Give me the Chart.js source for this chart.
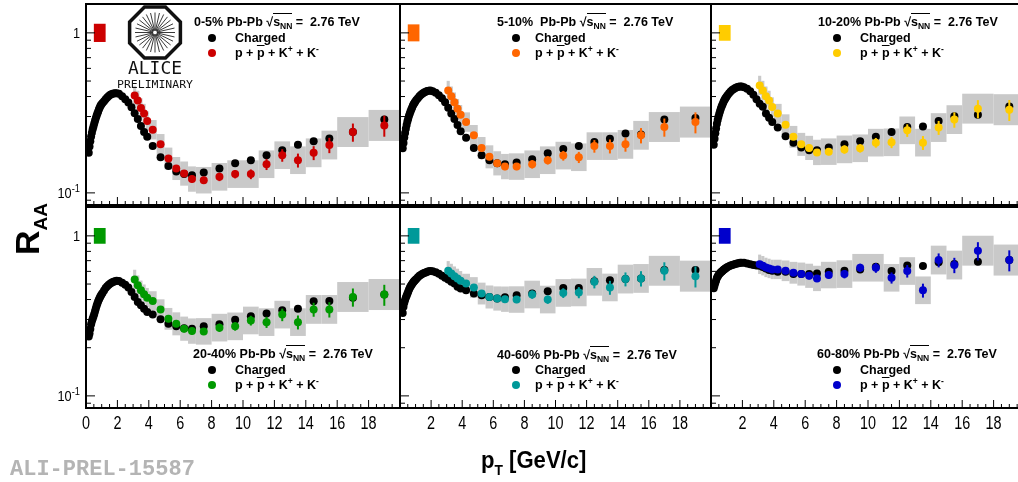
<!DOCTYPE html>
<html>
<head>
<meta charset="utf-8">
<script src="https://cdn.jsdelivr.net/npm/chart.js@4.4.1/dist/chart.umd.min.js"></script>
<style>
html, body { margin: 0; padding: 0; overflow: hidden; background: #fff; }
#page { position: relative; width: 1018px; height: 482px; overflow: hidden; font-family: 'Liberation Sans', Arial, sans-serif; }
canvas.pad { position: absolute; left: 0; top: 0; }
.leg { position: absolute; font-weight: bold; font-size: 12.5px; line-height: 14px; white-space: nowrap; transform: translateY(-50%); color: #000; }
.leg sub { font-size: 8.5px; vertical-align: -3px; line-height: 0; }
.leg sup { font-size: 8.5px; vertical-align: 5px; line-height: 0; }
.ov { border-top: 1.2px solid #000; padding-top: 1px; }
.ovp { text-decoration: overline; }
.dot { position: absolute; width: 8px; height: 8px; border-radius: 50%; transform: translate(-50%, -50%); }
#ytitle { position: absolute; left: 27px; top: 229px; transform: translate(-50%, -50%) rotate(-90deg); font-weight: bold; font-size: 34px; line-height: 34px; white-space: nowrap; }
#ytitle sub { font-size: 19px; vertical-align: -8px; line-height: 0; }
#xtitle { position: absolute; left: 481px; top: 448px; transform: scaleX(0.92); transform-origin: 0 0; font-weight: bold; font-size: 24px; line-height: 24px; white-space: nowrap; }
#xtitle sub { font-size: 15px; vertical-align: -7px; line-height: 0; }
#prel { position: absolute; left: 10px; top: 457px; font-family: 'Liberation Mono', 'DejaVu Sans Mono', monospace; font-weight: bold; font-size: 22px; color: #b4b4b4; white-space: nowrap; }
#logo { position: absolute; left: 110px; top: 0; }
</style>
</head>
<body>
<div id="page">
  <canvas class="pad" id="p0" width="1030" height="482"></canvas>
  <canvas class="pad" id="p1" width="1030" height="482"></canvas>
  <canvas class="pad" id="p2" width="1030" height="482"></canvas>
  <canvas class="pad" id="p3" width="1030" height="482"></canvas>
  <canvas class="pad" id="p4" width="1030" height="482"></canvas>
  <canvas class="pad" id="p5" width="1030" height="482"></canvas>
  <svg id="logo" width="100" height="92" viewBox="110 0 100 92"></svg>
  <div id="ytitle">R<sub>AA</sub></div>
  <div id="xtitle">p<sub>T</sub> [GeV/c]</div>
  <div id="prel">ALI-PREL-15587</div>
</div>
<script>
// ---- data ----
const centralities = ["0-5%", "5-10%", "10-20%", "20-40%", "40-60%", "60-80%"]
const pidColors = ["#cc0000", "#ff6600", "#ffcc00", "#009900", "#009999", "#0000cc"]

const chargedPt = [0.175, 0.225, 0.275, 0.325, 0.375, 0.425, 0.475, 0.525, 0.575, 0.625, 0.675, 0.725, 0.775, 0.825, 0.875, 0.925, 0.975,
  1.05, 1.15, 1.25, 1.35, 1.45, 1.55, 1.65, 1.75, 1.85, 1.95,
  2.1, 2.3, 2.5, 2.7, 2.9,
  3.1, 3.3, 3.5, 3.7, 3.9, 4.25, 4.75, 5.25, 5.75, 6.25, 6.75, 7.5, 8.5, 9.5, 10.5, 11.5, 12.5, 13.5, 14.5, 15.5, 17, 19]

const charged0_5 = [0.178, 0.195, 0.21, 0.225, 0.238, 0.25, 0.26, 0.271, 0.282, 0.293, 0.303, 0.313, 0.323, 0.333, 0.342, 0.35, 0.357,
  0.365, 0.374, 0.385, 0.395, 0.403, 0.41, 0.415, 0.418, 0.42, 0.42,
  0.416, 0.402, 0.385, 0.367, 0.343,
  0.315, 0.29, 0.262, 0.24, 0.224, 0.196, 0.167, 0.147, 0.136, 0.131, 0.129, 0.134, 0.142, 0.153, 0.16, 0.172, 0.185, 0.2, 0.21, 0.219, 0.24, 0.287]
const charged5_10 = [0.19, 0.205, 0.222, 0.237, 0.252, 0.266, 0.279, 0.291, 0.302, 0.312, 0.322, 0.332, 0.341, 0.35, 0.358, 0.365, 0.371,
  0.38, 0.391, 0.401, 0.41, 0.418, 0.424, 0.429, 0.433, 0.435, 0.436,
  0.432, 0.422, 0.408, 0.39, 0.368,
  0.34, 0.313, 0.29, 0.266, 0.243, 0.221, 0.191, 0.172, 0.16, 0.153, 0.151, 0.155, 0.162, 0.177, 0.188, 0.196, 0.208, 0.218, 0.235, 0.232, 0.287, 0.294]
const charged10_20 = [0.2, 0.218, 0.236, 0.253, 0.27, 0.285, 0.299, 0.312, 0.324, 0.335, 0.346, 0.356, 0.366, 0.375, 0.383, 0.391, 0.398,
  0.408, 0.42, 0.43, 0.439, 0.446, 0.452, 0.457, 0.46, 0.462, 0.462,
  0.458, 0.447, 0.432, 0.41, 0.385,
  0.36, 0.345, 0.313, 0.295, 0.277, 0.256, 0.226, 0.206, 0.192, 0.185, 0.185, 0.192, 0.201, 0.21, 0.224, 0.24, 0.258, 0.26, 0.281, 0.301, 0.308, 0.347]
const charged20_40 = [0.235, 0.245, 0.262, 0.28, 0.293, 0.303, 0.313, 0.325, 0.338, 0.352, 0.366, 0.378, 0.39, 0.4, 0.41, 0.42, 0.428,
  0.44, 0.455, 0.472, 0.485, 0.495, 0.504, 0.511, 0.517, 0.521, 0.524,
  0.522, 0.51, 0.495, 0.475, 0.446,
  0.415, 0.386, 0.368, 0.351, 0.334, 0.323, 0.301, 0.282, 0.272, 0.265, 0.263, 0.272, 0.28, 0.299, 0.314, 0.327, 0.343, 0.351, 0.39, 0.392, 0.41, 0.43]
const charged40_60 = [0.33, 0.36, 0.382, 0.398, 0.41, 0.422, 0.435, 0.448, 0.461, 0.472, 0.482, 0.491, 0.5, 0.508, 0.516, 0.523, 0.529,
  0.538, 0.552, 0.563, 0.572, 0.58, 0.586, 0.591, 0.596, 0.6, 0.603,
  0.6, 0.592, 0.58, 0.563, 0.548,
  0.534, 0.516, 0.504, 0.48, 0.469, 0.457, 0.436, 0.426, 0.415, 0.406, 0.413, 0.426, 0.436, 0.451, 0.473, 0.473, 0.521, 0.528, 0.537, 0.542, 0.611, 0.611]
const charged60_80 = [0.47, 0.49, 0.51, 0.527, 0.545, 0.558, 0.568, 0.577, 0.585, 0.592, 0.597, 0.604, 0.61, 0.616, 0.621, 0.626, 0.631,
  0.638, 0.645, 0.652, 0.658, 0.663, 0.667, 0.671, 0.675, 0.678, 0.68,
  0.679, 0.672, 0.665, 0.657, 0.652,
  0.65, 0.64, 0.625, 0.612, 0.605, 0.596, 0.596, 0.577, 0.577, 0.577, 0.582, 0.596, 0.605, 0.617, 0.641, 0.603, 0.654, 0.648, 0.684, 0.667, 0.689, 0.706]

const pidPt = [3.1, 3.3, 3.5, 3.7, 3.9, 4.25, 4.75, 5.25, 5.75, 6.25, 6.75, 7.5, 8.5, 9.5, 10.5, 11.5, 12.5, 13.5, 14.5, 15.5, 17, 19]
const pidBinLo = [3.0, 3.2, 3.4, 3.6, 3.8, 4.0, 4.5, 5.0, 5.5, 6.0, 6.5, 7, 8, 9, 10, 11, 12, 13, 14, 15, 16, 18]
const pidBinHi = [3.2, 3.4, 3.6, 3.8, 4.0, 4.5, 5.0, 5.5, 6.0, 6.5, 7, 8, 9, 10, 11, 12, 13, 14, 15, 16, 18, 20]
const pidSysRel = [0.15, 0.15, 0.15, 0.15, 0.15, 0.15, 0.16, 0.17, 0.18, 0.19, 0.2, 0.21, 0.22, 0.22, 0.22, 0.22, 0.22, 0.22, 0.23, 0.23, 0.24, 0.25]
const pidStatRel = [0.02, 0.02, 0.02, 0.02, 0.02, 0.02, 0.03, 0.04, 0.04, 0.05, 0.05, 0.05, 0.06, 0.06, 0.07, 0.08, 0.09, 0.1, 0.1, 0.11, 0.13, 0.15]

const pid0_5 = [0.406, 0.378, 0.339, 0.313, 0.281, 0.248, 0.201, 0.164, 0.142, 0.132, 0.122, 0.120, 0.126, 0.131, 0.131, 0.151, 0.172, 0.160, 0.178, 0.199, 0.240, 0.264]
const pid5_10 = [0.436, 0.402, 0.369, 0.336, 0.308, 0.277, 0.229, 0.191, 0.168, 0.153, 0.146, 0.146, 0.151, 0.160, 0.171, 0.167, 0.196, 0.196, 0.201, 0.229, 0.258, 0.277]
const pid10_20 = [0.469, 0.436, 0.402, 0.378, 0.344, 0.313, 0.267, 0.224, 0.201, 0.191, 0.179, 0.181, 0.187, 0.190, 0.206, 0.207, 0.246, 0.206, 0.256, 0.287, 0.336, 0.331]
const pid20_40 = [0.534, 0.492, 0.457, 0.432, 0.411, 0.392, 0.346, 0.303, 0.282, 0.263, 0.254, 0.253, 0.267, 0.272, 0.296, 0.289, 0.322, 0.289, 0.347, 0.347, 0.415, 0.430]
const pid40_60 = [0.605, 0.582, 0.560, 0.542, 0.524, 0.504, 0.476, 0.436, 0.415, 0.406, 0.402, 0.400, 0.430, 0.400, 0.440, 0.443, 0.516, 0.476, 0.537, 0.542, 0.605, 0.560]
const pid60_80 = [0.664, 0.651, 0.635, 0.626, 0.617, 0.617, 0.605, 0.588, 0.577, 0.563, 0.542, 0.569, 0.577, 0.632, 0.632, 0.547, 0.603, 0.457, 0.706, 0.657, 0.808, 0.706]

// normalisation uncertainty box near pT ~ 1, RAA = 1
const normPt = [0.5, 1.25]
const normRel = [0.14, 0.13, 0.12, 0.12, 0.12, 0.12]

// axis ticks
const xLabelsFirst = [0, 2, 4, 6, 8, 10, 12, 14, 16, 18]
const xLabelsOther = [2, 4, 6, 8, 10, 12, 14, 16, 18]
const xMajor = [0, 2, 4, 6, 8, 10, 12, 14, 16, 18, 20]
const xMinor = [0.5, 1, 1.5, 2.5, 3, 3.5, 4.5, 5, 5.5, 6.5, 7, 7.5, 8.5, 9, 9.5, 10.5, 11, 11.5, 12.5, 13, 13.5, 14.5, 15, 15.5, 16.5, 17, 17.5, 18.5, 19, 19.5]
const yLabels = [0.1, 1]
const yMinor = [0.09, 0.2, 0.3, 0.4, 0.5, 0.6, 0.7, 0.8, 0.9]

const chargedSets = [charged0_5, charged5_10, charged10_20, charged20_40, charged40_60, charged60_80]
const pidSets = [pid0_5, pid5_10, pid10_20, pid20_40, pid40_60, pid60_80]

// ---- layout of the 2x3 pads ----
const W = 1030, H = 482
const padCols = [[86, 400], [400, 711], [711, 1025]]
const padRows = [[3, 205], [207, 408]]
const boxGray = "#c9c9c9"

// narrow (condensed) text like the ROOT labels
function narrowText(ctx, txt, x, y, size, align, sx) {
    ctx.save()
    ctx.font = size + "px 'Liberation Sans', Arial, sans-serif"
    ctx.textBaseline = "alphabetic"
    ctx.translate(x, y)
    ctx.scale(sx, 1)
    const w = ctx.measureText(txt).width
    const x0 = align === "center" ? -w / 2 : (align === "right" ? -w : 0)
    ctx.fillText(txt, x0, 0)
    ctx.restore()
    return w * sx
}

const rootFrame = {
    id: "rootFrame",
    beforeDatasetsDraw(chart, args, o) {
        const { ctx, chartArea: a } = chart
        const x = chart.scales.x, y = chart.scales.y
        ctx.save()
        ctx.beginPath()
        ctx.rect(a.left, a.top, a.right - a.left, a.bottom - a.top)
        ctx.clip()
        ctx.fillStyle = boxGray
        pidPt.forEach((pt, i) => {
            const v = o.pid[i], f = pidSysRel[i]
            const x0 = x.getPixelForValue(pidBinLo[i]), x1 = x.getPixelForValue(pidBinHi[i])
            const y0 = y.getPixelForValue(v * (1 + f)), y1 = y.getPixelForValue(v / (1 + f))
            ctx.fillRect(x0, y0, x1 - x0, y1 - y0)
        })
        // normalisation uncertainty
        ctx.fillStyle = o.color
        const nx0 = x.getPixelForValue(normPt[0]), nx1 = x.getPixelForValue(normPt[1])
        const ny0 = y.getPixelForValue(1 + o.norm), ny1 = y.getPixelForValue(1 / (1 + o.norm))
        ctx.fillRect(nx0, ny0, nx1 - nx0, ny1 - ny0)
        ctx.restore()
    },
    afterDatasetDraw(chart, args, o) {
        if (args.index !== 1) return // stat errors after charged, before pid points
        const { ctx } = chart
        const x = chart.scales.x, y = chart.scales.y
        ctx.save()
        ctx.strokeStyle = o.color
        ctx.lineWidth = 2
        pidPt.forEach((pt, i) => {
            const v = o.pid[i], e = pidStatRel[i]
            const px = x.getPixelForValue(pt)
            ctx.beginPath()
            ctx.moveTo(px, y.getPixelForValue(v * (1 + e)))
            ctx.lineTo(px, y.getPixelForValue(v * (1 - e)))
            ctx.stroke()
        })
        ctx.restore()
    },
    afterDraw(chart, args, o) {
        const { ctx, chartArea: a } = chart
        const x = chart.scales.x, y = chart.scales.y
        ctx.save()
        ctx.strokeStyle = "#000"
        ctx.lineWidth = 1
        ctx.beginPath()
        xMajor.forEach(v => { const px = x.getPixelForValue(v); ctx.moveTo(px, a.bottom); ctx.lineTo(px, a.bottom - 8) })
        xMinor.forEach(v => { const px = x.getPixelForValue(v); ctx.moveTo(px, a.bottom); ctx.lineTo(px, a.bottom - 4) })
        yLabels.forEach(v => { const py = y.getPixelForValue(v); ctx.moveTo(a.left, py); ctx.lineTo(a.left + 9, py) })
        yMinor.forEach(v => { const py = y.getPixelForValue(v); ctx.moveTo(a.left, py); ctx.lineTo(a.left + 5, py) })
        ctx.stroke()
        ctx.lineWidth = 2
        ctx.strokeRect(a.left, a.top, a.right - a.left, a.bottom - a.top)

        ctx.fillStyle = "#000"
        if (o.xLabels) {
            o.xLabels.forEach(v => narrowText(ctx, String(v), x.getPixelForValue(v), a.bottom + 21, 18, "center", 0.8))
        }
        if (o.yLabels) {
            yLabels.forEach(v => {
                const py = y.getPixelForValue(v)
                const rx = a.left - 6
                if (v === 1) {
                    narrowText(ctx, "1", rx, py + 5, 15, "right", 0.85)
                } else {
                    const wSup = narrowText(ctx, "-1", rx, py - 1, 11, "right", 0.85)
                    narrowText(ctx, "10", rx - wSup, py + 5, 15, "right", 0.85)
                }
            })
        }
        ctx.restore()
    }
}

function makePad(i) {
    const col = i % 3, row = Math.floor(i / 3)
    const [left, right] = padCols[col]
    const [top, bottom] = padRows[row]

    return new Chart(document.getElementById("p" + i), {
        type: "scatter",
        data: {
            datasets: [
                {
                    label: "p + pbar + K+ + K-",
                    data: pidPt.map((pt, k) => ({ x: pt, y: pidSets[i][k] })),
                    backgroundColor: pidColors[i],
                    borderColor: pidColors[i],
                    borderWidth: 0,
                    pointRadius: 4
                },
                {
                    label: "Charged",
                    data: chargedPt.map((pt, k) => ({ x: pt, y: chargedSets[i][k] })),
                    backgroundColor: "#000",
                    borderColor: "#000",
                    borderWidth: 0,
                    pointRadius: 4
                }
            ]
        },
        options: {
            responsive: false,
            animation: false,
            devicePixelRatio: 1,
            events: [],
            layout: { padding: { left: left, right: W - right, top: top, bottom: H - bottom } },
            plugins: {
                legend: { display: false },
                tooltip: { enabled: false },
                rootFrame: {
                    pid: pidSets[i],
                    color: pidColors[i],
                    norm: normRel[i],
                    xLabels: row === 1 ? (col === 0 ? xLabelsFirst : xLabelsOther) : null,
                    yLabels: col === 0
                }
            },
            scales: {
                x: { type: "linear", min: 0, max: 20, display: false },
                y: { type: "logarithmic", min: 0.084, max: 1.515, display: false }
            }
        },
        plugins: [rootFrame]
    })
}

// legend blocks (title + two marker rows) per pad
const legendPos = [
    { tx: 194, ty: 22, dx: 212, lx: 235, r1: 38, r2: 53 },
    { tx: 497, ty: 22, dx: 516, lx: 535, r1: 38, r2: 53 },
    { tx: 818, ty: 22, dx: 837, lx: 860, r1: 38, r2: 53 },
    { tx: 193, ty: 354, dx: 212, lx: 235, r1: 370, r2: 385 },
    { tx: 497, ty: 355, dx: 516, lx: 535, r1: 370, r2: 385 },
    { tx: 817, ty: 354, dx: 837, lx: 860, r1: 370, r2: 385 }
]

function addLegend(i) {
    const page = document.getElementById("page")
    const p = legendPos[i]
    const add = (cls, x, y, html, bg) => {
        const d = document.createElement("div")
        d.className = cls
        d.style.left = x + "px"
        d.style.top = y + "px"
        if (html) d.innerHTML = html
        if (bg) d.style.background = bg
        page.appendChild(d)
    }
    const sep = i === 1 ? "&nbsp; " : " "
    add("leg", p.tx, p.ty, centralities[i] + sep + "Pb-Pb <span>\u221A<span class=\"ov\">s<sub>NN</sub></span></span> =&nbsp; 2.76 TeV")
    add("dot", p.dx, p.r1, null, "#000")
    add("leg", p.lx, p.r1, "Charged")
    add("dot", p.dx, p.r2, null, pidColors[i])
    add("leg", p.lx, p.r2, "p + <span class=\"ovp\">p</span> + K<sup>+</sup> + K<sup>-</sup>")
}

function drawLogo() {
    const svg = document.getElementById("logo")
    const ns = "http://www.w3.org/2000/svg"
    const cx = 155, cy = 32.5, R = 27.5
    let pts = []
    for (let k = 0; k < 8; k++) {
        const ang = (22.5 + 45 * k) * Math.PI / 180
        pts.push((cx + R * Math.cos(ang)).toFixed(1) + "," + (cy + R * Math.sin(ang)).toFixed(1))
    }
    const oct = document.createElementNS(ns, "polygon")
    oct.setAttribute("points", pts.join(" "))
    oct.setAttribute("fill", "#fff")
    oct.setAttribute("stroke", "#111")
    oct.setAttribute("stroke-width", "3.5")
    svg.appendChild(oct)
    for (let k = 0; k < 28; k++) {
        const ang = k * 2 * Math.PI / 28
        const l = document.createElementNS(ns, "line")
        l.setAttribute("x1", cx + 2 * Math.cos(ang))
        l.setAttribute("y1", cy + 2 * Math.sin(ang))
        l.setAttribute("x2", cx + 20 * Math.cos(ang))
        l.setAttribute("y2", cy + 20 * Math.sin(ang))
        l.setAttribute("stroke", "#222")
        l.setAttribute("stroke-width", "0.9")
        svg.appendChild(l)
    }
    const t1 = document.createElementNS(ns, "text")
    t1.setAttribute("x", 128); t1.setAttribute("y", 74)
    t1.setAttribute("textLength", 54); t1.setAttribute("lengthAdjust", "spacingAndGlyphs")
    t1.setAttribute("font-family", "'DejaVu Sans Mono', monospace"); t1.setAttribute("font-size", "18")
    t1.setAttribute("fill", "#111")
    t1.textContent = "ALICE"
    svg.appendChild(t1)
    const t2 = document.createElementNS(ns, "text")
    t2.setAttribute("x", 117); t2.setAttribute("y", 87.5)
    t2.setAttribute("textLength", 76); t2.setAttribute("lengthAdjust", "spacingAndGlyphs")
    t2.setAttribute("font-family", "'DejaVu Sans Mono', monospace"); t2.setAttribute("font-size", "10.5")
    t2.setAttribute("fill", "#111")
    t2.textContent = "PRELIMINARY"
    svg.appendChild(t2)
}

for (let i = 0; i < 6; i++) {
    makePad(i)
    addLegend(i)
}
drawLogo()
</script>
</body>
</html>
